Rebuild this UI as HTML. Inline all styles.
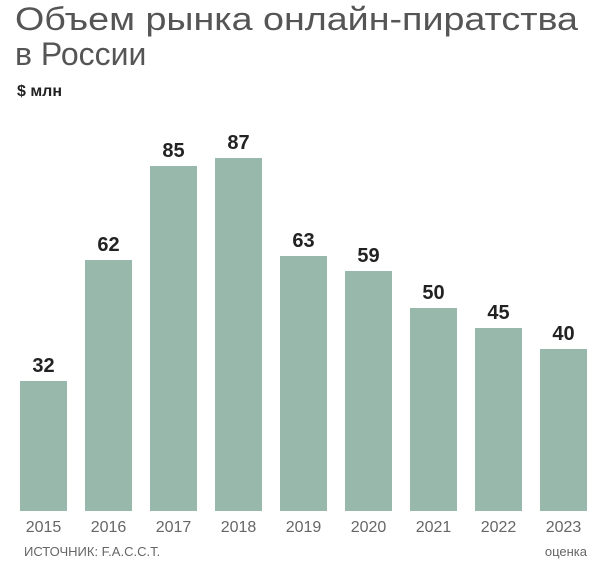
<!DOCTYPE html>
<html><head><meta charset="utf-8"><style>
html,body{margin:0;padding:0;background:#fff;}
svg{display:block;}
</style></head><body>
<svg width="600" height="563" xmlns="http://www.w3.org/2000/svg" font-family="Liberation Sans, sans-serif">
<text x="15" y="30" font-size="32" fill="#555" textLength="563" lengthAdjust="spacingAndGlyphs">Объем рынка онлайн-пиратства</text>
<text x="15" y="65" font-size="32" fill="#555">в России</text>
<text x="17" y="96" font-size="16" font-weight="bold" fill="#222">$ млн</text>
<g fill="#97b8ab">
<rect x="20" y="381" width="47" height="130"/>
<rect x="85" y="260" width="47" height="251"/>
<rect x="150" y="166" width="47" height="345"/>
<rect x="215" y="158" width="47" height="353"/>
<rect x="280" y="256" width="47" height="255"/>
<rect x="345" y="271" width="47" height="240"/>
<rect x="410" y="308" width="47" height="203"/>
<rect x="475" y="328" width="47" height="183"/>
<rect x="540" y="349" width="47" height="162"/>
</g>
<g font-size="20" font-weight="bold" fill="#222" text-anchor="middle">
<text x="43.5" y="372">32</text>
<text x="108.5" y="251">62</text>
<text x="173.5" y="157">85</text>
<text x="238.5" y="149">87</text>
<text x="303.5" y="247">63</text>
<text x="368.5" y="262">59</text>
<text x="433.5" y="299">50</text>
<text x="498.5" y="319">45</text>
<text x="563.5" y="340">40</text>
</g>
<g font-size="16" fill="#666" text-anchor="middle">
<text x="43.5" y="532">2015</text>
<text x="108.5" y="532">2016</text>
<text x="173.5" y="532">2017</text>
<text x="238.5" y="532">2018</text>
<text x="303.5" y="532">2019</text>
<text x="368.5" y="532">2020</text>
<text x="433.5" y="532">2021</text>
<text x="498.5" y="532">2022</text>
<text x="563.5" y="532">2023</text>
</g>
<text x="24" y="556" font-size="13" fill="#666">ИСТОЧНИК: F.A.C.C.T.</text>
<text x="587" y="556" font-size="13" fill="#666" text-anchor="end">оценка</text>
</svg>
</body></html>
